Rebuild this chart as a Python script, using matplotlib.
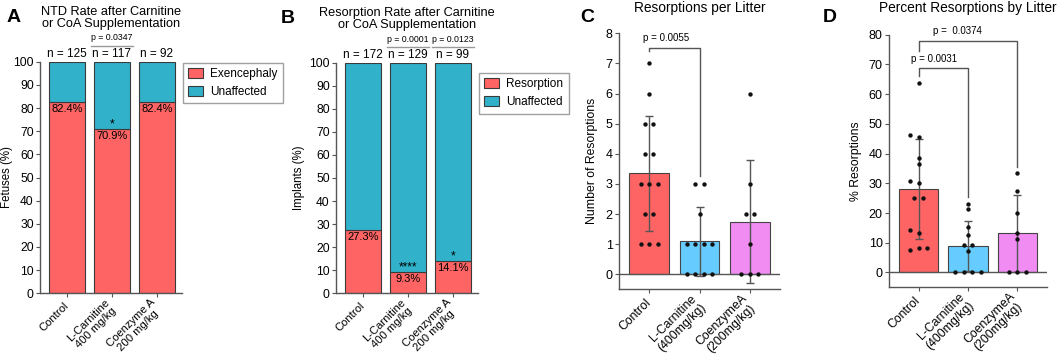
import matplotlib
matplotlib.use('Agg')
import matplotlib.pyplot as plt
import numpy as np

plt.rcParams['font.family'] = ['Liberation Sans', 'DejaVu Sans']

# Data
# ----------------------------------------------------------------------------

groups_ab = ['Control', 'L-Carnitine\n400 mg/kg', 'Coenzyme A\n200 mg/kg']
groups_cd = ['Control', 'L-Carnitine\n(400mg/kg)', 'CoenzymeA\n(200mg/kg)']

# A: NTD rate (% exencephaly)
ntd_pct = [82.4, 70.9, 82.4]
ntd_n = [125, 117, 92]
ntd_stars = ['', '*', '']
ntd_p = {1: 'p = 0.0347'}

# B: resorption rate (% of implants)
res_pct = [27.3, 9.3, 14.1]
res_n = [172, 129, 99]
res_stars = ['', '****', '*']
res_p = {1: 'p = 0.0001', 2: 'p = 0.0123'}

# C: resorptions per litter
per_litter = [
    [7, 6, 5, 5, 4, 4, 3, 3, 3, 2, 2, 1, 1, 1],
    [3, 3, 2, 1, 1, 1, 1, 0, 0, 0, 0],
    [6, 3, 2, 2, 1, 0, 0, 0],
]

# D: percent resorptions by litter
pct_litter = [
    [63.6, 46.2, 45.5, 38.5, 36.4, 30.8, 30.0, 25.0, 25.0, 14.3, 13.3, 8.3, 8.3, 7.7],
    [23.1, 21.4, 15.4, 12.5, 9.1, 9.1, 7.1, 0, 0, 0, 0],
    [33.3, 27.3, 20.0, 13.3, 11.1, 0, 0, 0],
]

red = '#FF6464'
teal = '#31B1CA'
bar_colors = ['#FF6464', '#66CCFF', '#F08CF2']
gray = '#555555'

W, H = 1059, 358
fig = plt.figure(figsize=(W / 100, H / 100), dpi=100)


def px_axes(left, top, right, bottom):
    return fig.add_axes([left / W, 1 - bottom / H, (right - left) / W, (bottom - top) / H])


def style_ax(ax, size, xpad):
    for s in ('top', 'right'):
        ax.spines[s].set_visible(False)
    for s in ('left', 'bottom'):
        ax.spines[s].set_color(gray)
        ax.spines[s].set_linewidth(1.0)
    ax.tick_params(colors='black', labelsize=size, length=3, width=0.8, color=gray)
    ax.tick_params(axis='y', pad=1.5)
    ax.tick_params(axis='x', pad=xpad)


def rotated_labels(ax, labels, size):
    ax.set_xticklabels(labels, rotation=45, ha='right', va='center', rotation_mode='anchor',
                       multialignment='center', fontsize=size, linespacing=1.05)


# Panels A and B: stacked percentage bars
# ----------------------------------------------------------------------------

def stacked_panel(ax, pct, n, stars, pvals, ylabel, label_x, title, labels, legend_y):
    x = np.arange(3)
    pct = np.array(pct)
    ax.bar(x, pct, width=0.8, color=red, edgecolor='#3a3a3a', linewidth=0.8, label=labels[0])
    ax.bar(x, 100 - pct, bottom=pct, width=0.8, color=teal, edgecolor='#3a3a3a',
           linewidth=0.8, label=labels[1])
    ax.set_ylim(0, 100)
    ax.set_xlim(-0.6, 2.56)
    ax.set_yticks(np.arange(0, 101, 10))
    ax.set_xticks(x)
    style_ax(ax, 8.7, 5)
    rotated_labels(ax, groups_ab, 8.1)
    ax.set_ylabel(ylabel, fontsize=8.3)
    ax.yaxis.set_label_coords(label_x, 0.5)
    for i in x:
        ax.text(i, pct[i] - 0.8, f'{pct[i]:.1f}%', ha='center', va='top', fontsize=8.0)
        if stars[i]:
            ax.text(i, pct[i] - 0.5, stars[i], ha='center', va='bottom', fontsize=8.5)
        ax.text(i, 100.6, f'n = {n[i]}', ha='center', va='bottom', fontsize=8.5, clip_on=False)
    for i, label in pvals.items():
        ax.plot([i - 0.47, i + 0.47], [106.6, 106.6], color='#999999', lw=1, clip_on=False)
        ax.text(i, 108.3, label, ha='center', va='bottom', fontsize=6.3, clip_on=False)
    ax.set_title(title, fontsize=9.2, pad=25, linespacing=1.05)
    leg = ax.legend(loc='upper left', bbox_to_anchor=(1.005, legend_y), fontsize=8.5,
                    frameon=True, fancybox=False, edgecolor='#888888', borderaxespad=0,
                    handlelength=1.3, handleheight=0.9, borderpad=0.45, labelspacing=0.5,
                    handletextpad=0.6)
    leg.get_frame().set_linewidth(1.0)


ax_a = px_axes(40, 61.7, 182, 293.3)
stacked_panel(ax_a, ntd_pct, ntd_n, ntd_stars, ntd_p, 'Fetuses (%)', -0.19,
              'NTD Rate after Carnitine\nor CoA Supplementation',
              ['Exencephaly', 'Unaffected'], 0.995)

ax_b = px_axes(336, 62.7, 478, 293.3)
stacked_panel(ax_b, res_pct, res_n, res_stars, res_p, 'Implants (%)', -0.215,
              'Resorption Rate after Carnitine\nor CoA Supplementation',
              ['Resorption', 'Unaffected'], 0.955)


# Panels C and D: bar + scatter + SD
# ----------------------------------------------------------------------------

def swarm_offsets(vals, ax, d=0.17, thr=4.0):
    sy = abs(ax.transData.transform((0, 1))[1] - ax.transData.transform((0, 0))[1])
    vals = np.asarray(vals, dtype=float)
    order = np.argsort(vals, kind='stable')
    v = vals[order]
    offs = np.zeros(len(v))
    start = 0
    for i in range(1, len(v) + 1):
        if i == len(v) or (v[i] - v[i - 1]) * sy >= thr:
            seg = v[start:i]
            k = len(seg)
            if k % 2 == 1 or np.all(seg == seg[0]):
                o = (np.arange(k) - (k - 1) / 2) * d
            else:
                o = np.array([0, -1, 1, -2, 2, -3, 3, -4, 4][:k]) * d
            offs[start:i] = o
            start = i
    out = np.empty(len(v))
    out[order] = offs
    return out


def scatter_panel(ax, data, ylim, yticks, ylabel, label_x, title, pad):
    x = np.arange(3)
    means = np.array([np.mean(d) for d in data])
    sds = np.array([np.std(d, ddof=1) for d in data])
    ax.set_xlim(-0.6, 2.6)
    ax.set_ylim(*ylim)
    ax.bar(x, means, width=0.79, color=bar_colors, edgecolor='#444444', linewidth=0.8, zorder=1)
    ax.axhline(0, color=gray, lw=1, zorder=1.5)
    ax.errorbar(x, means, yerr=sds, fmt='none', ecolor=gray, elinewidth=1,
                capsize=3.2, capthick=1, zorder=2)
    for i, d in enumerate(data):
        ax.scatter(i + swarm_offsets(d, ax), d, s=10, color='#111111', zorder=3, linewidths=0)
    ax.set_yticks(yticks)
    ax.set_xticks(x)
    style_ax(ax, 9, 5.5)
    rotated_labels(ax, groups_cd, 8.8)
    ax.set_ylabel(ylabel, fontsize=8.8)
    ax.yaxis.set_label_coords(label_x, 0.5)
    ax.set_title(title, fontsize=9.9, pad=pad)


def bracket(ax, x0, x1, y, y0, y1, label, tx, ty):
    ax.plot([x0, x0, x1, x1], [y0, y, y, y1], color=gray, lw=1, clip_on=False)
    ax.text(tx, ty, label, ha='center', va='center', fontsize=7, clip_on=False)


ax_c = px_axes(619, 33.3, 780, 289.3)
scatter_panel(ax_c, per_litter, (-0.5, 8), np.arange(0, 9), 'Number of Resorptions', -0.13,
              'Resorptions per Litter', 15)
bracket(ax_c, 0, 1, 7.52, 7.42, 3.27, 'p = 0.0055', 0.34, 7.86)

ax_d = px_axes(889, 34.7, 1047, 287.3)
scatter_panel(ax_d, pct_litter, (-5, 80), np.arange(0, 81, 10), '% Resorptions', -0.171,
              'Percent Resorptions by Litter', 16)
bracket(ax_d, 0, 2, 77.9, 74.6, 35.6, 'p =  0.0374', 0.78, 81.2)
bracket(ax_d, 0, 1, 68.7, 66.0, 25.5, 'p = 0.0031', 0.32, 71.8)

# Panel letters
for letter, xp, yp in [('A', 7, 22), ('B', 281, 23), ('C', 580, 22), ('D', 823, 22)]:
    fig.text(xp / W, 1 - yp / H, letter, fontsize=14, fontweight='bold', ha='left', va='baseline')

fig.savefig('out.png', dpi=100)
